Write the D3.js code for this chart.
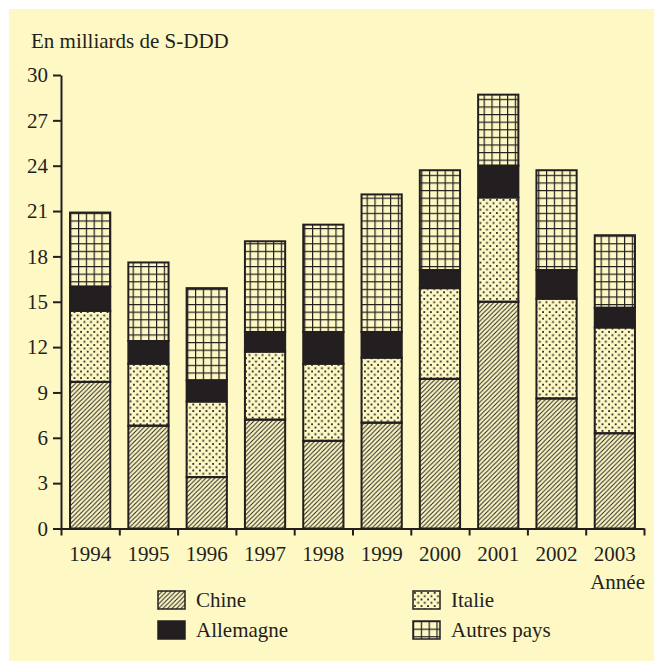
<!DOCTYPE html>
<html lang="fr">
<head>
<meta charset="utf-8">
<style type="text/css">
    body { margin: 0; background: #fff; }
    text { font-family: "Liberation Serif", "Times New Roman", serif; fill: #231f20; }
    .axis path, .axis line { stroke: #231f20; stroke-width: 2px; }
</style>
</head>
<body>
<svg width="654" height="661"></svg>

<script src="https://d3js.org/d3.v7.min.js"></script>
<script type="text/javascript">
    var years = ["1994", "1995", "1996", "1997", "1998", "1999", "2000", "2001", "2002", "2003"];
    var chine     = [9.7, 6.8, 3.4, 7.2, 5.8, 7.0, 9.9, 15.0, 8.6, 6.3];
    var italie    = [4.7, 4.1, 5.0, 4.5, 5.1, 4.3, 6.0, 6.9, 6.6, 7.0];
    var allemagne = [1.6, 1.5, 1.4, 1.3, 2.1, 1.7, 1.2, 2.1, 1.9, 1.3];
    var autres    = [4.9, 5.2, 6.1, 6.0, 7.1, 9.1, 6.6, 4.7, 6.6, 4.8];
    var seriesNames = ["Chine", "Italie", "Allemagne", "Autres pays"];
    var yTicks = [0, 3, 6, 9, 12, 15, 18, 21, 24, 27, 30];

    var ink = "#231f20", paper = "#fef8c4";

    var svg = d3.select("svg");

    svg.append("rect")
        .attr("x", 9).attr("y", 9)
        .attr("width", 645).attr("height", 652)
        .attr("fill", paper);

    // patterns
    var defs = svg.append("defs");
    var hatch = defs.append("pattern")
        .attr("id", "hatch").attr("patternUnits", "userSpaceOnUse")
        .attr("width", 4.5).attr("height", 4.5);
    hatch.append("path")
        .attr("d", "M-1,1 L1,-1 M0,4.5 L4.5,0 M3.5,5.5 L5.5,3.5")
        .attr("stroke", ink).attr("stroke-width", 1);

    var dots = defs.append("pattern")
        .attr("id", "dots").attr("patternUnits", "userSpaceOnUse")
        .attr("width", 6.6).attr("height", 6.6);
    dots.append("rect").attr("x", 1).attr("y", 1).attr("width", 1.8).attr("height", 1.8).attr("fill", ink);
    dots.append("rect").attr("x", 4.3).attr("y", 4.3).attr("width", 1.8).attr("height", 1.8).attr("fill", ink);

    var grid = defs.append("pattern")
        .attr("id", "grid").attr("patternUnits", "userSpaceOnUse")
        .attr("width", 7.8).attr("height", 7.6);
    grid.append("path")
        .attr("d", "M0.6,0 V7.6 M0,0.6 H7.8")
        .attr("stroke", ink).attr("stroke-width", 1.2).attr("fill", "none");

    var fills = ["url(#hatch)", "url(#dots)", ink, "url(#grid)"];

    var plotLeft = 61, plotRight = 644, plotTop = 75, plotBottom = 528.5;

    var x = d3.scaleBand().domain(years).range([plotLeft, plotRight]).paddingInner(0.31).paddingOuter(0.155);
    var xEdges = d3.scaleLinear().domain([0, years.length]).range([plotLeft, plotRight]);
    var y = d3.scaleLinear().domain([0, 30]).range([plotBottom, plotTop]);

    var rows = years.map(function (yr, i) {
        return { year: yr, Chine: chine[i], Italie: italie[i], Allemagne: allemagne[i], "Autres pays": autres[i] };
    });
    var stacked = d3.stack().keys(seriesNames)(rows);

    // y axis
    svg.append("g")
        .attr("class", "axis")
        .attr("transform", "translate(" + plotLeft + ",0)")
        .call(d3.axisLeft(y).tickValues(yTicks).tickSize(8).tickSizeOuter(0).tickPadding(5))
        .call(function (g) {
            g.selectAll("text").attr("font-size", 21).attr("fill", ink)
                .style("font-family", "'Liberation Serif', serif");
        });

    // bars
    svg.append("g").selectAll("g")
        .data(stacked)
        .enter().append("g")
        .attr("fill", function (d, i) { return fills[i]; })
        .selectAll("rect")
        .data(function (d) { return d; })
        .enter().append("rect")
        .attr("x", function (d) { return x(d.data.year); })
        .attr("y", function (d) { return y(d[1]); })
        .attr("width", x.bandwidth())
        .attr("height", function (d) { return y(d[0]) - y(d[1]); })
        .attr("stroke", ink)
        .attr("stroke-width", 2);

    // x axis: boundary ticks
    svg.append("g")
        .attr("class", "axis")
        .attr("transform", "translate(0," + plotBottom + ")")
        .call(d3.axisBottom(xEdges).tickValues(d3.range(years.length + 1)).tickSize(7).tickSizeOuter(0).tickFormat(""));

    // year labels
    svg.append("g")
        .attr("transform", "translate(0," + plotBottom + ")")
        .call(d3.axisBottom(x).tickSize(0).tickPadding(18))
        .call(function (g) {
            g.select(".domain").remove();
            g.selectAll("text").attr("font-size", 21).attr("fill", ink)
                .style("font-family", "'Liberation Serif', serif");
        });

    svg.append("text")
        .attr("x", 31).attr("y", 48)
        .attr("font-size", 21)
        .text("En milliards de S-DDD");

    svg.append("text")
        .attr("x", 645).attr("y", 589)
        .attr("text-anchor", "end")
        .attr("font-size", 21)
        .text("Année");

    // legend
    var legendPos = [[158, 591], [413, 591], [158, 621], [413, 621]];
    var legend = svg.append("g").selectAll("g")
        .data(seriesNames)
        .enter().append("g")
        .attr("transform", function (d, i) { return "translate(" + legendPos[i][0] + "," + legendPos[i][1] + ")"; });

    legend.append("rect")
        .attr("width", 27).attr("height", 18)
        .attr("fill", function (d, i) { return fills[i]; })
        .attr("stroke", ink).attr("stroke-width", 1.5);

    legend.append("text")
        .attr("x", 38).attr("y", 16)
        .attr("font-size", 21)
        .text(function (d) { return d; });
</script>
</body>
</html>
